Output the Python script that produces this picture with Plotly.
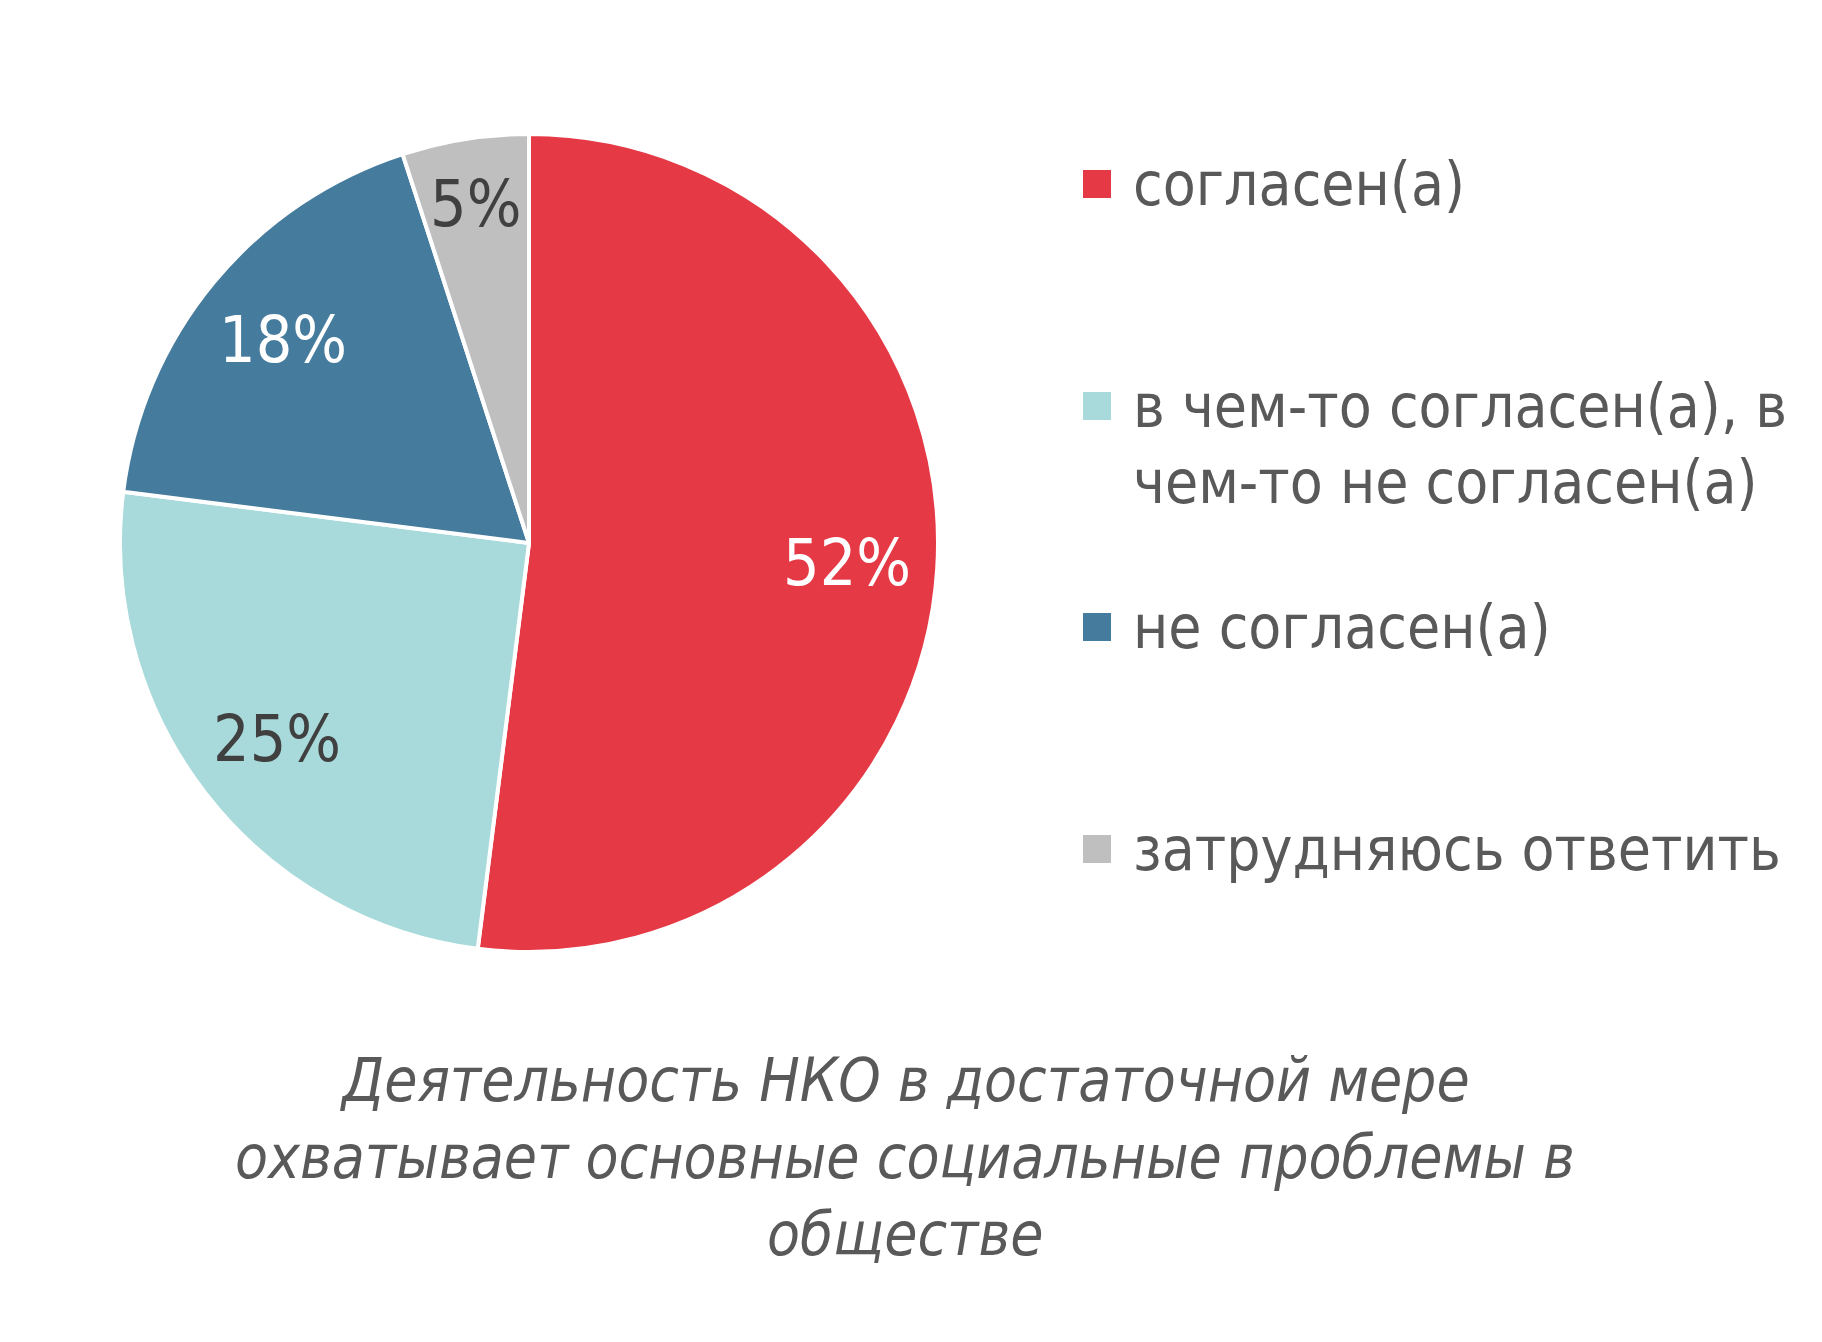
import math
import plotly.graph_objects as go

W, H = 1822, 1342

labels = ["согласен(а)", "в чем-то согласен(а), в чем-то не согласен(а)", "не согласен(а)", "затрудняюсь ответить"]
legend_lines = [["согласен(а)"], ["в чем-то согласен(а), в", "чем-то не согласен(а)"], ["не согласен(а)"], ["затрудняюсь ответить"]]
values = [52, 25, 18, 5]
colors = ["#E63946", "#A8DADC", "#457B9D", "#BFBFBF"]
label_colors = ["#FFFFFF", "#404040", "#FFFFFF", "#404040"]
title_lines = ["Деятельность НКО в достаточной мере", "охватывает основные социальные проблемы в", "обществе"]

FONT = "DejaVu Sans Condensed, Liberation Sans Narrow, sans-serif"
TXT = "#595959"

# pie geometry (pixels)
cx, cy, R = 529, 543, 409


def px(x):
    return x / W


def py(y):
    return 1 - y / H


fig = go.Figure()
fig.add_trace(go.Pie(
    values=values, labels=labels, sort=False, direction="clockwise", rotation=0,
    marker=dict(colors=colors, line=dict(color="white", width=4)),
    textinfo="none", hoverinfo="label+percent", showlegend=False,
    domain=dict(x=[px(cx - R), px(cx + R)], y=[py(cy + R), py(cy - R)]),
))

annotations = []
# percentage labels at mid-angle of each slice
total = sum(values)
cum = 0
for v, col in zip(values, label_colors):
    mid = (cum + v / 2) / total * 2 * math.pi
    cum += v
    rf = 0.78 if v >= 10 else 0.84
    x = cx + rf * R * math.sin(mid)
    y = cy - rf * R * math.cos(mid)
    annotations.append(dict(x=px(x), y=py(y), xref="paper", yref="paper", text=f"{v}%",
                            showarrow=False, xanchor="center", yanchor="middle",
                            font=dict(family=FONT, size=64, color=col)))

# legend
shapes = []
leg_y = [184, 406, 627, 849]
for i, (lines, col) in enumerate(zip(legend_lines, colors)):
    y0 = leg_y[i]
    shapes.append(dict(type="rect", xref="paper", yref="paper",
                       x0=px(1083), x1=px(1111), y0=py(y0 + 14), y1=py(y0 - 14),
                       fillcolor=col, line=dict(width=0)))
    for j, t in enumerate(lines):
        annotations.append(dict(x=px(1131), y=py(y0 + j * 76), xref="paper", yref="paper",
                                text=t, showarrow=False, xanchor="left", yanchor="middle",
                                font=dict(family=FONT, size=60, color=TXT)))

# caption
for j, t in enumerate(title_lines):
    annotations.append(dict(x=px(905), y=py(1080 + j * 77), xref="paper", yref="paper",
                            text=f"<i>{t}</i>", showarrow=False, xanchor="center", yanchor="middle",
                            font=dict(family=FONT, size=60, color=TXT)))

fig.update_layout(
    width=W, height=H, margin=dict(l=0, r=0, t=0, b=0),
    paper_bgcolor="white", plot_bgcolor="white",
    annotations=annotations, shapes=shapes,
)

fig.write_html("out.html")
